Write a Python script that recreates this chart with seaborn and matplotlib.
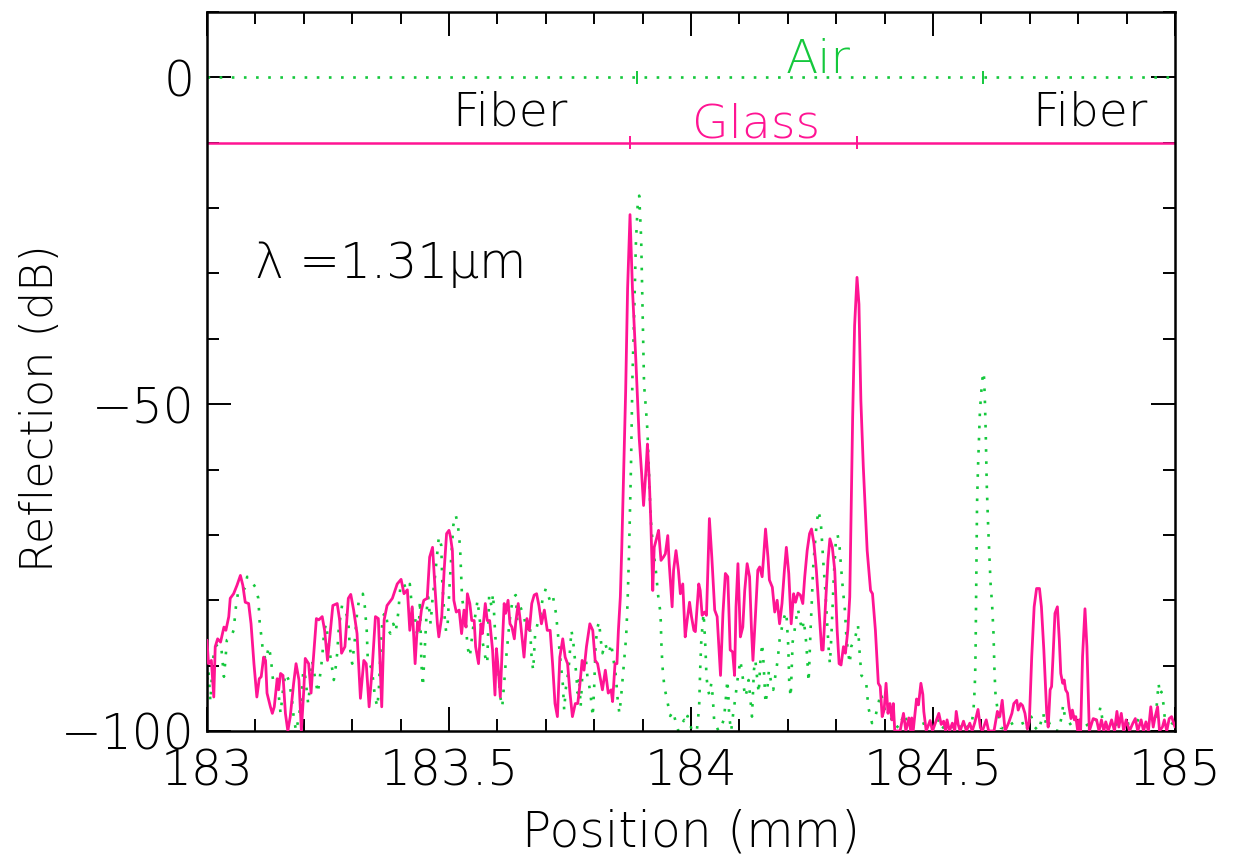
import numpy as np
import pandas as pd
import matplotlib
matplotlib.use("Agg")
import matplotlib.pyplot as plt
import seaborn as sns
from matplotlib.ticker import MultipleLocator, FixedLocator, FixedFormatter

# ---------------- data ----------------
glass_pos = [
    183.000, 183.003, 183.009, 183.014, 183.017, 183.022, 183.028, 183.035, 183.039, 183.045,
    183.048, 183.055, 183.062, 183.069, 183.074, 183.079, 183.086, 183.091, 183.097, 183.103,
    183.108, 183.112, 183.117, 183.121, 183.124, 183.131, 183.135, 183.139, 183.145, 183.148,
    183.152, 183.157, 183.162, 183.167, 183.172, 183.179, 183.184, 183.190, 183.195, 183.200,
    183.203, 183.210, 183.215, 183.219, 183.226, 183.231, 183.238, 183.243, 183.249, 183.255,
    183.260, 183.269, 183.274, 183.278, 183.285, 183.292, 183.297, 183.303, 183.310, 183.317,
    183.324, 183.329, 183.335, 183.341, 183.348, 183.354, 183.361, 183.366, 183.372, 183.383,
    183.393, 183.401, 183.407, 183.414, 183.419, 183.424, 183.430, 183.435, 183.438, 183.443,
    183.448, 183.455, 183.460, 183.466, 183.471, 183.476, 183.479, 183.485, 183.490, 183.495,
    183.500, 183.503, 183.507, 183.510, 183.515, 183.521, 183.526, 183.531, 183.535, 183.538,
    183.543, 183.547, 183.552, 183.555, 183.561, 183.566, 183.569, 183.575, 183.579, 183.584,
    183.590, 183.595, 183.598, 183.602, 183.606, 183.610, 183.614, 183.617, 183.622, 183.626,
    183.630, 183.635, 183.638, 183.643, 183.648, 183.655, 183.661, 183.666, 183.671, 183.676,
    183.681, 183.686, 183.691, 183.697, 183.703, 183.709, 183.714, 183.719, 183.724, 183.729,
    183.735, 183.740, 183.745, 183.750, 183.755, 183.761, 183.766, 183.770, 183.775, 183.779,
    183.784, 183.791, 183.797, 183.802, 183.807, 183.812, 183.817, 183.823, 183.829, 183.835,
    183.838, 183.843, 183.847, 183.850, 183.854, 183.857, 183.861, 183.865, 183.869, 183.874,
    183.879, 183.886, 183.893, 183.898, 183.902, 183.907, 183.910, 183.914, 183.917, 183.921,
    183.924, 183.929, 183.933, 183.938, 183.943, 183.947, 183.952, 183.955, 183.961, 183.964,
    183.969, 183.974, 183.978, 183.983, 183.988, 183.992, 183.997, 184.001, 184.006, 184.009,
    184.016, 184.019, 184.023, 184.028, 184.032, 184.038, 184.043, 184.049, 184.054, 184.061,
    184.066, 184.071, 184.076, 184.081, 184.086, 184.090, 184.093, 184.097, 184.102, 184.107,
    184.111, 184.116, 184.121, 184.125, 184.128, 184.133, 184.138, 184.142, 184.147, 184.150,
    184.154, 184.159, 184.162, 184.168, 184.173, 184.178, 184.183, 184.188, 184.193, 184.197,
    184.202, 184.207, 184.212, 184.216, 184.221, 184.226, 184.231, 184.235, 184.240, 184.245,
    184.249, 184.254, 184.259, 184.264, 184.270, 184.273, 184.278, 184.283, 184.287, 184.292,
    184.297, 184.302, 184.306, 184.310, 184.315, 184.319, 184.324, 184.328, 184.331, 184.334,
    184.338, 184.343, 184.347, 184.351, 184.356, 184.364, 184.371, 184.375, 184.381, 184.387,
    184.391, 184.395, 184.399, 184.403, 184.407, 184.411, 184.415, 184.418, 184.421, 184.432,
    184.439, 184.444, 184.450, 184.454, 184.456, 184.459, 184.466, 184.470, 184.475, 184.479,
    184.481, 184.486, 184.494, 184.499, 184.512, 184.517, 184.522, 184.526, 184.529, 184.534,
    184.540, 184.545, 184.548, 184.552, 184.556, 184.563, 184.569, 184.576, 184.581, 184.586,
    184.593, 184.598, 184.602, 184.610, 184.615, 184.626, 184.633, 184.638, 184.643, 184.649,
    184.656, 184.663, 184.667, 184.673, 184.676, 184.681, 184.685, 184.690, 184.695, 184.699,
    184.704, 184.709, 184.714, 184.720, 184.724, 184.729, 184.735, 184.738, 184.742, 184.745,
    184.748, 184.752, 184.757, 184.761, 184.764, 184.768, 184.771, 184.774, 184.778, 184.781,
    184.785, 184.788, 184.792, 184.795, 184.799, 184.802, 184.805, 184.809, 184.814, 184.818,
    184.823, 184.831, 184.838, 184.843, 184.848, 184.853, 184.857, 184.862, 184.869, 184.875,
    184.880, 184.884, 184.889, 184.894, 184.899, 184.906, 184.913, 184.918, 184.923, 184.930,
    184.935, 184.940, 184.945, 184.950, 184.955, 184.959, 184.964, 184.968, 184.974, 184.978,
    184.983, 184.988, 184.993, 185.000,
]
glass_db = [
    -86.1, -89.7, -89.2, -94.8, -87.1, -85.9, -86.4, -84.1, -84.6, -82.5,
    -79.7, -79.0, -77.7, -76.2, -77.7, -80.3, -80.5, -83.6, -89.7, -94.8,
    -92.0, -91.7, -88.7, -89.2, -94.2, -96.3, -97.3, -96.3, -92.0, -93.7,
    -91.2, -91.5, -97.3, -100.0, -97.8, -92.7, -89.7, -92.2, -100.0, -93.7,
    -88.9, -89.7, -94.2, -89.7, -82.8, -83.0, -82.5, -84.6, -89.2, -84.6,
    -80.8, -80.5, -83.0, -88.1, -87.1, -79.7, -79.1, -81.5, -85.1, -95.0,
    -89.2, -89.7, -96.3, -90.7, -82.5, -82.8, -96.3, -83.0, -80.8, -79.7,
    -77.5, -76.8, -79.0, -78.4, -84.6, -81.0, -89.7, -83.3, -84.6, -81.5,
    -80.0, -79.7, -73.4, -71.9, -78.0, -83.6, -85.6, -82.5, -75.4, -69.8,
    -69.3, -70.3, -72.4, -80.0, -81.8, -81.5, -85.1, -81.5, -84.1, -79.0,
    -80.5, -83.1, -83.1, -87.1, -89.7, -83.6, -85.1, -80.5, -83.1, -83.1,
    -87.6, -94.5, -87.4, -90.7, -94.8, -87.1, -80.5, -82.0, -80.0, -83.6,
    -84.1, -85.9, -83.3, -80.5, -83.6, -88.7, -82.8, -84.6, -80.5, -79.2,
    -79.0, -80.9, -83.6, -81.5, -84.6, -84.6, -89.7, -95.8, -97.8, -88.7,
    -85.9, -88.7, -89.7, -94.2, -97.8, -95.8, -95.8, -93.2, -89.2, -90.7,
    -87.1, -83.6, -84.6, -89.2, -89.7, -91.7, -93.7, -90.7, -94.2, -93.7,
    -95.5, -89.7, -89.7, -84.6, -79.5, -71.9, -60.0, -48.0, -32.3, -21.0,
    -32.3, -43.2, -55.2, -60.6, -65.5, -60.0, -56.1, -62.0, -68.0, -78.5,
    -71.9, -70.5, -69.3, -73.9, -73.4, -72.9, -70.1, -74.4, -81.0, -75.4,
    -72.4, -75.4, -79.0, -77.5, -85.6, -83.1, -80.3, -82.5, -84.6, -84.8,
    -77.5, -78.5, -82.3, -81.8, -82.3, -67.5, -73.4, -81.5, -82.5, -91.5,
    -82.0, -75.9, -76.4, -87.6, -87.9, -91.5, -81.0, -74.4, -85.6, -84.1,
    -78.5, -74.4, -76.4, -84.6, -89.2, -82.5, -75.4, -74.9, -76.4, -73.4,
    -69.1, -73.4, -76.9, -78.0, -81.8, -80.0, -83.6, -80.5, -75.4, -71.9,
    -75.9, -83.6, -79.0, -80.3, -78.9, -79.2, -80.5, -76.4, -72.4, -69.8,
    -69.1, -71.3, -75.4, -81.0, -87.6, -87.6, -80.5, -73.9, -70.6, -71.9,
    -75.4, -84.6, -89.7, -89.9, -87.1, -88.1, -84.6, -79.5, -66.0, -52.0,
    -38.0, -30.6, -34.7, -49.5, -59.6, -72.4, -78.5, -79.0, -84.6, -92.7,
    -93.2, -97.8, -96.8, -92.7, -97.3, -95.8, -98.3, -95.8, -100.0, -100.0,
    -97.3, -100.0, -98.0, -100.0, -98.0, -100.0, -95.1, -96.0, -92.7, -94.4,
    -97.0, -100.0, -98.4, -100.0, -97.3, -99.0, -98.5, -100.0, -98.3, -100.0,
    -98.8, -100.0, -97.0, -99.0, -100.0, -98.5, -100.0, -98.8, -100.0, -98.8,
    -96.7, -99.5, -100.0, -98.3, -100.0, -100.0, -97.0, -97.8, -95.3, -100.0,
    -98.8, -97.3, -95.8, -95.3, -96.8, -95.8, -96.1, -97.3, -99.7, -98.6,
    -88.6, -81.0, -78.2, -78.2, -81.0, -87.6, -97.3, -99.4, -93.7, -93.2,
    -88.6, -82.0, -81.0, -86.1, -91.2, -92.7, -92.2, -93.7, -94.2, -96.3,
    -98.1, -96.8, -98.3, -97.8, -100.0, -98.3, -100.0, -88.6, -81.3, -87.1,
    -100.0, -98.1, -98.3, -100.0, -98.3, -100.0, -98.6, -100.0, -98.3, -100.0,
    -97.0, -99.4, -97.3, -100.0, -98.3, -100.0, -98.8, -98.1, -100.0, -98.3,
    -100.0, -98.6, -100.0, -96.3, -99.4, -97.8, -96.3, -100.0, -99.4, -98.3,
    -100.0, -98.1, -97.8, -99.4,
]

air_pos = [
    183.000, 183.003, 183.007, 183.012, 183.017, 183.024, 183.030, 183.035, 183.038, 183.041,
    183.048, 183.055, 183.060, 183.064, 183.071, 183.078, 183.083, 183.090, 183.100, 183.106,
    183.109, 183.112, 183.115, 183.121, 183.128, 183.132, 183.137, 183.143, 183.147, 183.152,
    183.157, 183.162, 183.169, 183.175, 183.179, 183.184, 183.190, 183.195, 183.199, 183.203,
    183.209, 183.214, 183.217, 183.224, 183.229, 183.235, 183.238, 183.242, 183.246, 183.252,
    183.257, 183.262, 183.266, 183.269, 183.272, 183.276, 183.279, 183.286, 183.292, 183.295,
    183.300, 183.306, 183.310, 183.314, 183.322, 183.326, 183.330, 183.332, 183.337, 183.341,
    183.347, 183.352, 183.355, 183.359, 183.363, 183.369, 183.375, 183.379, 183.385, 183.390,
    183.395, 183.400, 183.407, 183.412, 183.419, 183.424, 183.430, 183.432, 183.437, 183.440,
    183.443, 183.446, 183.450, 183.454, 183.457, 183.462, 183.466, 183.471, 183.475, 183.479,
    183.484, 183.486, 183.490, 183.494, 183.497, 183.501, 183.505, 183.509, 183.514, 183.518,
    183.521, 183.523, 183.525, 183.527, 183.531, 183.535, 183.538, 183.543, 183.546, 183.550,
    183.554, 183.559, 183.562, 183.566, 183.570, 183.575, 183.579, 183.583, 183.588, 183.591,
    183.595, 183.598, 183.602, 183.606, 183.610, 183.614, 183.617, 183.621, 183.624, 183.628,
    183.633, 183.638, 183.641, 183.645, 183.650, 183.655, 183.659, 183.663, 183.667, 183.671,
    183.674, 183.678, 183.683, 183.688, 183.693, 183.700, 183.706, 183.710, 183.715, 183.721,
    183.726, 183.731, 183.735, 183.738, 183.741, 183.745, 183.748, 183.753, 183.757, 183.761,
    183.766, 183.769, 183.772, 183.776, 183.779, 183.783, 183.786, 183.790, 183.793, 183.797,
    183.800, 183.803, 183.807, 183.810, 183.814, 183.817, 183.823, 183.828, 183.831, 183.835,
    183.841, 183.845, 183.848, 183.852, 183.855, 183.859, 183.862, 183.866, 183.869, 183.872,
    183.876, 183.879, 183.883, 183.886, 183.890, 183.893, 183.897, 183.900, 183.903, 183.907,
    183.910, 183.914, 183.917, 183.921, 183.928, 183.932, 183.937, 183.939, 183.941, 183.945,
    183.950, 183.957, 183.963, 183.969, 183.974, 183.980, 183.986, 183.990, 183.993, 183.997,
    184.002, 184.012, 184.015, 184.017, 184.019, 184.021, 184.024, 184.026, 184.028, 184.030,
    184.032, 184.035, 184.038, 184.042, 184.045, 184.048, 184.057, 184.068, 184.071, 184.073,
    184.075, 184.077, 184.079, 184.083, 184.088, 184.092, 184.095, 184.099, 184.102, 184.106,
    184.109, 184.112, 184.116, 184.119, 184.123, 184.126, 184.130, 184.133, 184.137, 184.140,
    184.143, 184.147, 184.150, 184.154, 184.157, 184.161, 184.166, 184.170, 184.174, 184.179,
    184.183, 184.188, 184.193, 184.197, 184.201, 184.203, 184.206, 184.208, 184.210, 184.214,
    184.218, 184.221, 184.225, 184.230, 184.233, 184.237, 184.240, 184.243, 184.247, 184.250,
    184.252, 184.255, 184.259, 184.263, 184.268, 184.271, 184.274, 184.278, 184.281, 184.285,
    184.287, 184.290, 184.292, 184.295, 184.299, 184.303, 184.307, 184.310, 184.314, 184.318,
    184.321, 184.324, 184.328, 184.331, 184.334, 184.338, 184.341, 184.345, 184.348, 184.352,
    184.355, 184.359, 184.362, 184.364, 184.366, 184.371, 184.374, 184.381, 184.387, 184.392,
    184.395, 184.399, 184.402, 184.406, 184.409, 184.412, 184.416, 184.423, 184.430, 184.440,
    184.445, 184.450, 184.461, 184.471, 184.483, 184.487, 184.500, 184.512, 184.521, 184.531,
    184.542, 184.552, 184.562, 184.573, 184.580, 184.583, 184.585, 184.587, 184.588, 184.589,
    184.590, 184.591, 184.593, 184.595, 184.597, 184.600, 184.603, 184.605, 184.607, 184.609,
    184.611, 184.614, 184.616, 184.619, 184.622, 184.625, 184.627, 184.629, 184.632, 184.636,
    184.640, 184.650, 184.660, 184.669, 184.684, 184.692, 184.703, 184.709, 184.718, 184.728,
    184.731, 184.735, 184.745, 184.759, 184.765, 184.769, 184.772, 184.786, 184.796, 184.806,
    184.820, 184.828, 184.842, 184.846, 184.852, 184.862, 184.873, 184.883, 184.894, 184.908,
    184.918, 184.928, 184.939, 184.949, 184.959, 184.962, 184.966, 184.969, 184.972, 184.976,
    184.979, 184.986, 185.000,
]
air_db = [
    -92.2, -90.7, -95.5, -89.2, -87.1, -86.6, -87.6, -91.7, -89.2, -86.1,
    -85.9, -84.6, -80.8, -78.9, -78.0, -78.2, -76.4, -76.9, -78.0, -79.7,
    -83.6, -85.3, -87.4, -89.2, -87.1, -88.9, -92.7, -92.7, -93.7, -97.3,
    -93.7, -91.2, -92.2, -94.8, -97.8, -100.0, -97.8, -94.8, -90.7, -91.7,
    -95.8, -92.2, -89.2, -92.2, -94.2, -90.7, -88.7, -84.8, -83.6, -87.1,
    -89.7, -92.2, -90.2, -88.1, -84.6, -82.3, -80.8, -81.5, -83.3, -87.1,
    -89.7, -85.6, -82.0, -80.0, -79.0, -80.9, -84.6, -88.7, -89.9, -90.7,
    -94.8, -96.3, -93.7, -87.1, -82.5, -81.8, -84.6, -85.1, -83.6, -84.8,
    -82.0, -77.5, -77.5, -78.4, -77.5, -81.5, -82.5, -84.6, -85.6, -80.0,
    -89.7, -93.2, -87.4, -81.5, -79.5, -83.6, -79.7, -76.4, -73.4, -70.3,
    -71.6, -77.0, -81.8, -84.8, -84.0, -78.0, -73.0, -68.5, -67.0, -68.3,
    -70.3, -72.1, -76.1, -79.7, -81.5, -83.3, -87.1, -88.7, -86.6, -84.1,
    -82.5, -80.0, -82.0, -84.6, -86.6, -88.7, -89.7, -79.2, -81.0, -79.0,
    -84.6, -88.1, -90.7, -94.8, -96.3, -92.7, -89.7, -86.6, -84.1, -81.5,
    -79.5, -79.2, -83.1, -80.5, -81.5, -82.5, -84.1, -84.6, -83.6, -89.2,
    -90.7, -85.1, -83.6, -82.5, -80.0, -78.2, -79.5, -80.3, -79.5, -82.0,
    -85.9, -89.7, -92.7, -96.8, -93.7, -91.7, -89.7, -84.6, -86.6, -89.7,
    -94.2, -91.7, -96.3, -90.7, -89.2, -89.2, -91.7, -93.2, -94.8, -97.8,
    -93.2, -86.6, -84.1, -83.3, -86.3, -88.1, -86.6, -88.1, -87.9, -86.6,
    -89.7, -91.7, -94.8, -97.3, -95.3, -91.7, -89.2, -85.6, -80.2, -72.6,
    -59.5, -45.9, -35.0, -25.7, -19.2, -18.1, -24.6, -36.1, -47.0, -50.8,
    -54.1, -62.2, -67.7, -71.5, -75.9, -79.2, -82.0, -87.0, -90.1, -93.3,
    -95.0, -97.7, -97.0, -98.8, -100.0, -99.0, -98.3, -98.8, -97.7, -98.6,
    -100.0, -100.0, -97.8, -95.8, -90.5, -86.6, -83.6, -82.0, -84.6, -87.6,
    -91.7, -93.7, -94.5, -92.7, -94.8, -98.6, -100.0, -98.3, -95.8, -94.2,
    -92.2, -94.2, -97.8, -100.0, -96.8, -94.8, -92.7, -90.7, -89.2, -91.2,
    -93.2, -94.8, -93.7, -92.2, -95.3, -97.8, -90.7, -89.2, -92.2, -94.2,
    -89.7, -86.6, -89.7, -95.8, -94.2, -90.7, -92.7, -93.7, -91.7, -89.2,
    -86.1, -84.1, -82.5, -81.8, -87.1, -92.7, -94.8, -90.7, -86.4, -84.6,
    -82.5, -81.3, -83.1, -84.6, -83.1, -85.6, -88.7, -92.5, -84.6, -79.5,
    -75.4, -72.4, -68.8, -66.3, -67.8, -71.3, -74.9, -79.0, -83.1, -88.1,
    -89.7, -85.6, -81.8, -76.4, -71.3, -70.0, -71.9, -74.9, -78.5, -81.5,
    -85.6, -87.6, -89.7, -87.1, -86.6, -86.1, -85.1, -83.8, -87.6, -91.5,
    -91.7, -92.5, -92.7, -94.2, -96.3, -97.8, -98.8, -97.8, -95.8, -94.2,
    -95.0, -96.3, -97.3, -96.8, -96.3, -97.3, -99.1, -99.1, -99.6, -97.3,
    -98.3, -99.3, -99.6, -99.1, -98.8, -99.0, -100.0, -98.1, -99.5, -98.8,
    -99.5, -100.0, -98.6, -99.5, -98.8, -97.3, -95.3, -91.7, -87.6, -80.0,
    -72.4, -65.2, -59.6, -55.1, -51.0, -47.9, -45.4, -45.1, -48.9, -54.5,
    -62.2, -68.8, -72.4, -77.5, -80.5, -85.1, -90.7, -94.2, -96.0, -98.1,
    -99.5, -99.7, -99.0, -98.6, -98.6, -100.0, -97.8, -99.3, -100.0, -97.3,
    -99.0, -97.8, -99.7, -100.0, -98.1, -96.0, -97.6, -99.2, -98.6, -99.7,
    -99.0, -99.2, -97.8, -96.3, -99.2, -99.0, -98.6, -99.2, -99.0, -98.8,
    -98.1, -98.6, -99.2, -99.0, -98.3, -96.3, -92.7, -94.5, -94.0, -95.8,
    -98.1, -98.3, -99.2,
]

# layer boundaries drawn at the top of the plot
glass_bounds = [183.874, 184.343]
air_bounds = [183.889, 184.603]
glass_level = -10
air_level = 0

x_ticks = [183.0, 183.5, 184.0, 184.5, 185.0]
x_tick_labels = ["183", "183.5", "184", "184.5", "185"]
y_ticks = [0, -50, -100]

MAGENTA = "#ff1493"
GREEN = "#14c83c"

# ---------------- figure ----------------
sns.set_style("ticks")
plt.rcParams["font.family"] = ["DejaVu Sans"]
plt.rcParams["font.weight"] = 200
plt.rcParams["axes.labelweight"] = 200
plt.rcParams["axes.unicode_minus"] = True
for key in ["text.color", "axes.labelcolor", "xtick.color", "ytick.color",
            "xtick.labelcolor", "ytick.labelcolor", "axes.edgecolor"]:
    plt.rcParams[key] = "black"

FS = 34
W, H = 1234, 863
fig = plt.figure(figsize=(W / 100, H / 100), dpi=100)
ax = fig.add_axes([207 / W, 1 - 731 / H, (1175 - 207) / W, (731 - 12) / H])

df_glass = pd.DataFrame({"Position": glass_pos, "Reflection": glass_db})
df_air = pd.DataFrame({"Position": air_pos, "Reflection": air_db})

sns.lineplot(data=df_air, x="Position", y="Reflection", ax=ax, color=GREEN,
             lw=1.9, linestyle=(0, (1, 3.6)), estimator=None, sort=False, zorder=2)
sns.lineplot(data=df_glass, x="Position", y="Reflection", ax=ax, color=MAGENTA,
             lw=2.0, estimator=None, sort=False, zorder=3)

# layer indicator lines
ax.axhline(air_level, color=GREEN, lw=1.9, linestyle=(0, (1, 3.6)), zorder=2)
ax.axhline(glass_level, color=MAGENTA, lw=1.8, zorder=2)
ax.vlines(air_bounds, air_level - 1.0, air_level + 1.0, color=GREEN, lw=1.4)
ax.vlines(glass_bounds, glass_level - 1.0, glass_level + 1.0, color=MAGENTA, lw=1.4)

ax.text(184.262, 0.6, "Air", color=GREEN, fontsize=FS, ha="center", va="baseline")
ax.text(184.134, -9.2, "Glass", color=MAGENTA, fontsize=FS, ha="center", va="baseline")
ax.text(183.626, -7.4, "Fiber", color="black", fontsize=FS, ha="center", va="baseline")
ax.text(184.824, -7.4, "Fiber", color="black", fontsize=FS, ha="center", va="baseline")
ax.text(183.099, -30.7, "λ =1.31μm", color="black", fontsize=FS + 1, ha="left", va="baseline")

ax.set_xlim(183, 185)
ax.set_ylim(-100, 10)
ax.xaxis.set_major_locator(FixedLocator(x_ticks))
ax.xaxis.set_major_formatter(FixedFormatter(x_tick_labels))
ax.xaxis.set_minor_locator(MultipleLocator(0.1))
ax.yaxis.set_major_locator(FixedLocator(y_ticks))
ax.yaxis.set_minor_locator(MultipleLocator(10))

ax.tick_params(which="both", direction="in", top=True, right=True, width=1.4,
               color="black", labelcolor="black", labelsize=FS + 1)
ax.tick_params(which="major", length=17)
ax.tick_params(which="minor", length=8.5)
ax.tick_params(axis="x", which="major", pad=12)
ax.tick_params(axis="y", which="major", pad=9)
for s in ax.spines.values():
    s.set_linewidth(1.8)
    s.set_color("black")

ax.set_xlabel("Position (mm)", fontsize=FS + 1, va="center")
ax.xaxis.set_label_coords(0.5, (731 - 832) / 719)
ax.set_ylabel("Reflection (dB)", fontsize=FS - 2, va="center")
ax.yaxis.set_label_coords((40 - 207) / 968, (731 - 408) / 719)

fig.savefig("out.png", dpi=100)
